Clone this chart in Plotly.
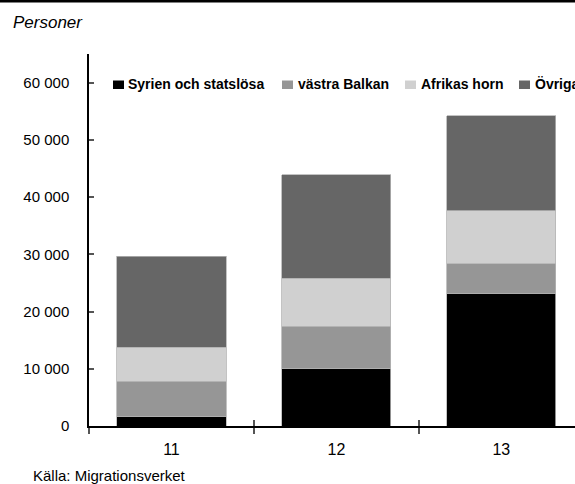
import plotly.graph_objects as go

# ---- data ----
categories = ["11", "12", "13"]
series_names = ["Syrien och statslösa", "västra Balkan", "Afrikas horn", "Övriga"]
syrien = [1650, 9980, 23190]
balkan = [6180, 7480, 5180]
afrika = [5900, 8350, 9230]
ovriga = [15940, 18090, 16640]
series_values = [syrien, balkan, afrika, ovriga]
colors = ["#000000", "#969696", "#d0d0d0", "#666666"]
y_ticks = [0, 10000, 20000, 30000, 40000, 50000, 60000]

# ---- layout geometry ----
W, H = 575, 484
ML, MR, MT, MB = 89, 0, 54, 58
PW, PH = W - ML - MR, H - MT - MB

def px(x):
    return (x - ML) / PW

def py(y):
    return (H - MB - y) / PH

FAM = "Liberation Sans, Arial, sans-serif"

def nf(size, **kw):
    d = dict(family=FAM, size=size, color="#000000")
    d.update(kw)
    return d

fig = go.Figure()
for name, vals, col in zip(series_names, series_values, colors):
    fig.add_trace(go.Bar(
        x=categories, y=vals, name=name,
        marker=dict(color=col, line=dict(color="#b4b4b4", width=0.8)),
        width=0.662, showlegend=False,
    ))

xr = [-0.5, 2.447]
fig.update_layout(
    width=W, height=H,
    barmode="stack",
    plot_bgcolor="white", paper_bgcolor="white",
    margin=dict(l=ML, r=MR, t=MT, b=MB, autoexpand=False),
    separators=", ",
    font=nf(15),
    xaxis=dict(
        type="category", range=xr, showline=True, linecolor="#000000", linewidth=1.5,
        ticks="outside", tickson="boundaries", ticklen=6, tickcolor="#555555", tickwidth=1.5,
        showgrid=False, zeroline=False, ticklabelstandoff=8,
        tickfont=nf(16),
    ),
    xaxis2=dict(
        overlaying="x", anchor="y", range=xr, showline=False, showgrid=False, zeroline=False,
        ticks="inside", ticklen=6, tickcolor="#555555", tickwidth=1.5,
        tickvals=[i + 0.5 for i in range(len(categories) - 1)], showticklabels=False,
    ),
    yaxis=dict(
        range=[0, 65000], tickvals=y_ticks, tickformat=",d", showline=True,
        linecolor="#000000", linewidth=1.5, ticks="inside", ticklen=5,
        tickcolor="#555555", tickwidth=1.5, showgrid=False, zeroline=False,
        ticklabelstandoff=15, tickfont=nf(15),
    ),
)
# invisible trace to activate the overlay axis
fig.add_trace(go.Scatter(x=[], y=[], xaxis="x2", yaxis="y", showlegend=False, hoverinfo="skip"))

shapes = [dict(type="rect", xref="paper", yref="paper", x0=px(-2), x1=px(W + 2), y0=py(2.5), y1=py(-2),
               fillcolor="#000000", line=dict(width=0), layer="above")]
annotations = [
    dict(text="Personer", xref="paper", yref="paper", x=px(11), y=py(22), xanchor="left", yanchor="middle",
         showarrow=False, font=nf(17, style="italic")),
    dict(text="Källa: Migrationsverket", xref="paper", yref="paper", x=px(31), y=py(475),
         xanchor="left", yanchor="middle", showarrow=False, font=nf(15)),
]
# legend built from series names/colors
sq_x = [113, 282, 405, 519]
txt_x = [126, 296, 419, 533]
for name, col, sx, tx in zip(series_names, colors, sq_x, txt_x):
    shapes.append(dict(type="rect", xref="paper", yref="paper", x0=px(sx), x1=px(sx + 11),
                       y0=py(89), y1=py(80.5), fillcolor=col, line=dict(width=0)))
    annotations.append(dict(text="<b>" + name + "</b>", xref="paper", yref="paper", x=px(tx), y=py(84),
                            xanchor="left", yanchor="middle", showarrow=False,
                            font=nf(14)))
fig.update_layout(shapes=shapes, annotations=annotations)

post = "document.body.style.margin='0';document.body.style.overflow='hidden';"
fig.write_html("out.html", post_script=post, config={"displayModeBar": False})
